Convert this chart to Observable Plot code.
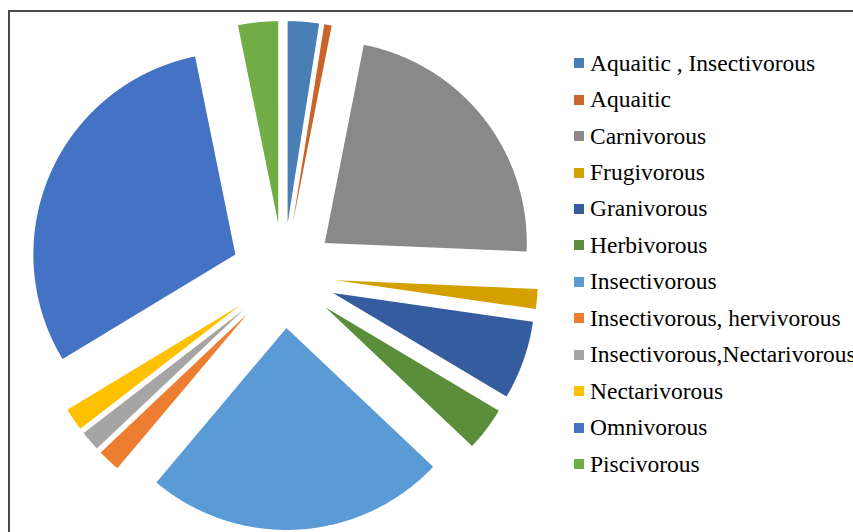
<!DOCTYPE html>
<html>
<head>
<meta charset="utf-8">
<script src="https://cdn.jsdelivr.net/npm/d3@7"></script>
<script src="https://cdn.jsdelivr.net/npm/@observablehq/plot@0.6"></script>
<style>
  html, body { margin: 0; padding: 0; background: #fff; width: 853px; height: 532px; overflow: hidden; }
  #frame { position: absolute; left: 8px; top: 10px; width: 900px; height: 600px; border: 2.5px solid #4a4a4a; box-sizing: border-box; }
  #pie { position: absolute; left: 0; top: 0; }
  #legend { position: absolute; left: 574px; top: 45px; width: 420px; }
  #legend, #legend * { font-family: "Liberation Serif", "Times New Roman", serif !important; }
  .lg-swatches { font-size: 23.5px !important; color: #000 !important; margin: 0 !important; }
  .lg-swatch { height: 36.45px; padding: 0 !important; }
  .lg-swatch > svg { margin-right: 6px !important; }
  .lg-swatch-label { overflow: visible !important; text-overflow: clip !important; }
</style>
</head>
<body>
<div id="frame"></div>
<div id="pie"></div>
<div id="legend"></div>
<script>
// Feeding guilds and their share of recorded species (%)
const categories = [
  "Aquaitic , Insectivorous",
  "Aquaitic",
  "Carnivorous",
  "Frugivorous",
  "Granivorous",
  "Herbivorous",
  "Insectivorous",
  "Insectivorous, hervivorous",
  "Insectivorous,Nectarivorous",
  "Nectarivorous",
  "Omnivorous",
  "Piscivorous"
];
const shares = [2.5, 0.6, 22.6, 1.6, 6.3, 3.5, 24.1, 1.8, 1.6, 1.8, 30.5, 3.2];
const colors = [
  "#4a7eb6", "#c9652a", "#898989", "#d3a000", "#355c9f", "#5a8e3b",
  "#5b9bd5", "#ed7d31", "#a5a5a5", "#ffc000", "#4472c4", "#70ad47"
];

// Layout of the pie inside the page (pixels)
const W = 853, H = 532;
const CX = 283, CY = 275, R = 202;
const EXPLODE = 0.26; // slice offset, as a fraction of the radius

const rows = categories.map((name, i) => ({name, value: shares[i]}));

// Each slice becomes a closed outline in unit-radius coordinates:
// apex (pushed out along the bisector) followed by points along the arc.
const arcs = d3.pie().sort(null).value(d => d.value)(rows);
const outline = arcs.flatMap(a => {
  const name = a.data.name;
  const mid = (a.startAngle + a.endAngle) / 2;
  const ox = EXPLODE * Math.sin(mid), oy = EXPLODE * Math.cos(mid);
  const n = Math.max(2, Math.ceil((a.endAngle - a.startAngle) / 0.005));
  const pts = [{name, x: ox, y: oy}];
  for (let i = 0; i <= n; ++i) {
    const t = a.startAngle + (a.endAngle - a.startAngle) * i / n;
    pts.push({name, x: ox + Math.sin(t), y: oy + Math.cos(t)});
  }
  return pts;
});

const chart = Plot.plot({
  width: W,
  height: H,
  margin: 0,
  style: {background: "transparent"},
  x: {domain: [-CX / R, (W - CX) / R], axis: null},
  y: {domain: [-(H - CY) / R, CY / R], axis: null},
  color: {domain: categories, range: colors},
  marks: [
    Plot.line(outline, {x: "x", y: "y", z: "name", fill: "name", stroke: "none", curve: "linear"})
  ]
});
document.getElementById("pie").append(chart);

const legend = chart.legend("color", {
  legend: "swatches",
  columns: 1,
  swatchSize: 10,
  className: "lg",
  style: {fontFamily: "'Liberation Serif', serif", fontSize: "23.5px", color: "#000"}
});
document.getElementById("legend").append(legend);
</script>
</body>
</html>
